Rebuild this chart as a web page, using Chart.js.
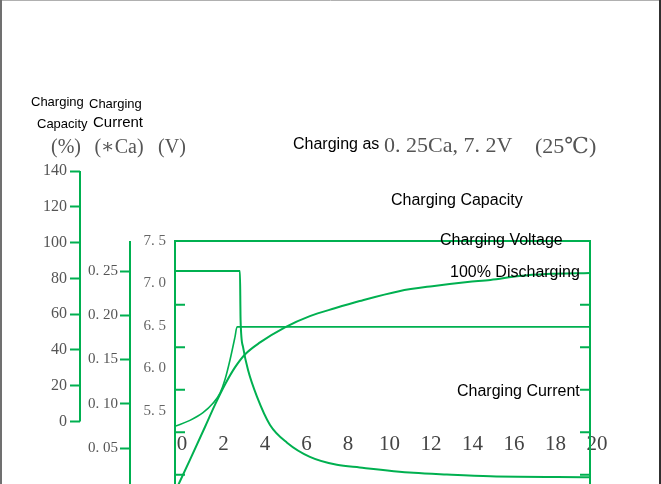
<!DOCTYPE html>
<html>
<head>
<meta charset="utf-8">
<script src="https://cdn.jsdelivr.net/npm/chart.js@4.4.1/dist/chart.umd.min.js"></script>
<style>
html, body { margin: 0; padding: 0; overflow: hidden; background: #fff; }
canvas { display: block; }
</style>
</head>
<body>
<canvas id="chart" width="661" height="560"></canvas>
<script>
var GREEN = '#00b050';

// charging time (h) and values
var HOURS_CURRENT = [0, 3.13, 3.16, 3.28, 3.52, 3.95, 4.58, 5.4, 6.5, 7.8, 8.9, 11.5, 13.1, 15.2, 20];
var CURRENT = [0.25, 0.25, 0.195, 0.164, 0.138, 0.108, 0.076, 0.056, 0.040, 0.031, 0.028, 0.022, 0.020, 0.018, 0.017];

var HOURS_VOLTAGE = [0, 0.72, 1.35, 1.83, 2.17, 2.41, 2.65, 2.89, 2.99, 20];
var VOLTAGE = [5.32, 5.39, 5.48, 5.59, 5.71, 5.87, 6.10, 6.37, 6.49, 6.49];

var HOURS_CAPACITY = [0, 0.72, 1.45, 1.93, 2.41, 2.89, 3.37, 4.1, 5.3, 6.5, 7.7, 8.9, 10.8, 12.4, 14.1, 15.2, 16.6, 17.9, 20];
var CAPACITY = [0, 14.7, 29.8, 39.9, 49.1, 56.9, 62.8, 68.3, 75.2, 80.3, 83.9, 87.2, 91.7, 94.0, 95.9, 96.8, 98.6, 99.5, 100];

var HOUR_TICKS = [0, 2, 4, 6, 8, 10, 12, 14, 16, 18, 20];
var CAP_TICKS = [0, 20, 40, 60, 80, 100, 120, 140];
var CUR_TICKS = [0.05, 0.10, 0.15, 0.20, 0.25];
var VOLT_TICKS = [5.5, 6.0, 6.5, 7.0, 7.5];
var VOLT_MINOR = [4.75, 5.25, 5.75, 6.25, 6.75];

var AREA_TOP = 171, AREA_BOTTOM = 530;

// min/max so that value v1 sits at pixel p1 and v2 at p2
function span(v1, p1, v2, p2) {
	var k = (v1 - v2) / (p2 - p1);
	return { min: v2 - (AREA_BOTTOM - p2) * k, max: v1 + (p1 - AREA_TOP) * k };
}

function pts(xs, ys) {
	return xs.map(function(x, i) { return { x: x, y: ys[i] }; });
}

function fixTicks(list) {
	return function(scale) {
		scale.ticks = list.map(function(v) { return { value: v }; });
	};
}

function setWidth(w) {
	return function(scale) { scale.width = w; };
}

var serif = "'Liberation Serif', 'DejaVu Serif', serif";
var sans = "'Liberation Sans', Arial, sans-serif";

var capR = span(140, 171, 0, 421.5);
var curR = span(0.25, 271, 0.05, 448);
var voltR = span(7.5, 241, 5.5, 411);
var plotR = span(100, 273, 0, 492);

var decor = {
	id: 'decor',
	beforeDraw: function(chart) {
		var c = chart.ctx;
		c.save();
		c.fillStyle = '#fff';
		c.fillRect(0, 0, chart.width, chart.height);
		c.restore();
	},
	afterDraw: function(chart) {
		var c = chart.ctx, s = chart.scales, a = chart.chartArea;
		var top = s.volt.getPixelForValue(7.5);
		c.save();
		c.strokeStyle = GREEN;
		c.lineWidth = 2;
		c.beginPath();
		c.moveTo(s.cap.right, s.cap.getPixelForValue(140));
		c.lineTo(s.cap.right, s.cap.getPixelForValue(0));
		c.moveTo(s.cur.right, top);
		c.lineTo(s.cur.right, a.bottom);
		c.moveTo(a.left, a.bottom);
		c.lineTo(a.left, top);
		c.lineTo(a.right, top);
		c.lineTo(a.right, a.bottom);
		VOLT_MINOR.forEach(function(v) {
			var y = s.volt.getPixelForValue(v);
			c.moveTo(a.left, y); c.lineTo(a.left + 10, y);
			c.moveTo(a.right - 10, y); c.lineTo(a.right, y);
		});
		c.stroke();

		// outer frame
		c.lineWidth = 1;
		c.strokeStyle = '#b0b0b0';
		c.beginPath(); c.moveTo(0, 0.5); c.lineTo(chart.width, 0.5); c.stroke();
		c.lineWidth = 2;
		c.strokeStyle = '#707070';
		c.beginPath(); c.moveTo(1, 0); c.lineTo(1, chart.height); c.stroke();
		c.strokeStyle = '#303030';
		c.beginPath(); c.moveTo(660, 0); c.lineTo(660, chart.height); c.stroke();

		// labels
		c.textBaseline = 'middle';
		c.textAlign = 'left';
		c.fillStyle = '#000';
		c.font = '13px ' + sans;
		c.fillText('Charging', 31, 102);
		c.fillText('Charging', 89, 104);
		c.fillText('Capacity', 37, 124);
		c.font = '15px ' + sans;
		c.fillText('Current', 93, 123);
		c.font = '16px ' + sans;
		c.fillText('Charging as', 293, 145);
		c.fillText('Charging Capacity', 391, 201);
		c.fillText('Charging Voltage', 440, 241);
		c.fillText('100% Discharging', 450, 273);
		c.fillText('Charging Current', 457, 392);
		c.fillStyle = '#555';
		c.font = '20px ' + serif;
		c.textAlign = 'center';
		c.fillText('(%)', 66, 148);
		c.fillText('(\u2217Ca)', 119, 148);
		c.fillText('(V)', 172, 148);
		c.textAlign = 'left';
		c.font = '22px ' + serif;
		c.fillText('0. 25Ca, 7. 2V', 384, 146);
		c.fillText('(25\u2103)', 535, 147);
		c.restore();
	}
};

window.onload = function() {
	var ctx = document.getElementById('chart').getContext('2d');
	new Chart(ctx, {
		type: 'line',
		data: {
			datasets: [{
				label: 'Charging Current',
				data: pts(HOURS_CURRENT, CURRENT),
				yAxisID: 'cur',
				borderColor: GREEN,
				borderWidth: 2,
				pointRadius: 0,
				cubicInterpolationMode: 'monotone'
			}, {
				label: 'Charging Voltage',
				data: pts(HOURS_VOLTAGE, VOLTAGE),
				yAxisID: 'volt',
				borderColor: GREEN,
				borderWidth: 1.6,
				pointRadius: 0,
				cubicInterpolationMode: 'monotone'
			}, {
				label: 'Charging Capacity',
				data: pts(HOURS_CAPACITY, CAPACITY),
				yAxisID: 'plot',
				borderColor: GREEN,
				borderWidth: 2,
				pointRadius: 0,
				cubicInterpolationMode: 'monotone'
			}]
		},
		options: {
			responsive: false,
			animation: false,
			layout: { padding: { left: 0, top: AREA_TOP, right: 71, bottom: 560 - AREA_BOTTOM } },
			plugins: { legend: { display: false }, tooltip: { enabled: false } },
			scales: {
				x: {
					type: 'linear',
					axis: 'x',
					min: 0,
					max: 20,
					position: { volt: 5.26 },
					afterBuildTicks: fixTicks(HOUR_TICKS),
					grid: { display: false, drawTicks: false },
					border: { display: false },
					ticks: {
						autoSkip: false,
						maxRotation: 0,
						padding: 0,
						labelOffset: 7,
						color: '#444',
						font: { family: serif, size: 21 }
					}
				},
				plot: {
					type: 'linear',
					position: 'left',
					display: false,
					min: plotR.min,
					max: plotR.max
				},
				volt: {
					type: 'linear',
					position: 'left',
					min: voltR.min,
					max: voltR.max,
					afterBuildTicks: fixTicks(VOLT_TICKS),
					afterFit: setWidth(45),
					grid: { display: false, drawTicks: false },
					border: { display: false },
					ticks: {
						padding: 9,
						color: '#666',
						font: { family: serif, size: 15 },
						callback: function(v) { return v.toFixed(1).replace('.', '. '); }
					}
				},
				cur: {
					type: 'linear',
					position: 'left',
					min: curR.min,
					max: curR.max,
					afterBuildTicks: fixTicks(CUR_TICKS),
					afterFit: setWidth(50),
					grid: { drawOnChartArea: false, tickLength: 10, tickColor: GREEN, tickWidth: 2 },
					border: { display: false },
					ticks: {
						padding: 2,
						color: '#555',
						font: { family: serif, size: 15 },
						callback: function(v) { return v.toFixed(2).replace('.', '. '); }
					}
				},
				cap: {
					type: 'linear',
					position: 'left',
					min: capR.min,
					max: capR.max,
					afterBuildTicks: fixTicks(CAP_TICKS),
					afterFit: setWidth(80),
					grid: { drawOnChartArea: false, tickLength: 10, tickColor: GREEN, tickWidth: 2 },
					border: { display: false },
					ticks: { padding: 3, color: '#555', font: { family: serif, size: 16 } }
				}
			}
		},
		plugins: [decor]
	});
};
</script>
</body>
</html>
